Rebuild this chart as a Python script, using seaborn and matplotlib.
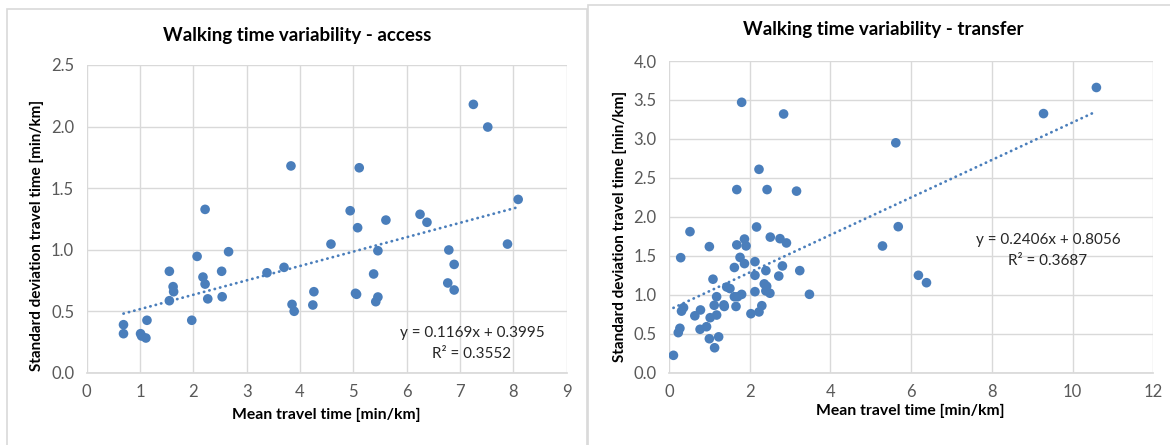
import numpy as np
import pandas as pd
import matplotlib
matplotlib.use("Agg")
import matplotlib.pyplot as plt
from matplotlib.patches import Rectangle
import seaborn as sns

# ---------------- data ----------------
access_mean = [0.69, 0.69, 1.13, 1.01, 1.03, 1.11, 1.55, 1.62, 1.63, 1.55, 1.97, 2.07,
               2.22, 2.18, 2.22, 2.27, 2.53, 2.54, 2.66, 3.38, 3.70, 3.83, 3.85, 3.89,
               4.26, 4.24, 4.58, 4.94, 5.11, 5.08, 5.61, 5.46, 5.38, 5.06, 5.04, 5.46,
               5.42, 6.25, 6.38, 6.79, 6.89, 6.77, 6.89, 7.25, 7.52, 7.89, 8.09]
access_sd = [0.39, 0.317, 0.426, 0.317, 0.298, 0.282, 0.824, 0.699, 0.658, 0.585, 0.426, 0.945,
             1.327, 0.777, 0.72, 0.60, 0.824, 0.617, 0.983, 0.812, 0.856, 1.68, 0.555, 0.499,
             0.658, 0.55, 1.045, 1.316, 1.665, 1.178, 1.24, 0.991, 0.802, 0.637, 0.645, 0.615,
             0.577, 1.287, 1.222, 0.997, 0.88, 0.729, 0.672, 2.18, 1.996, 1.045, 1.408]

transfer_mean = [0.11, 0.23, 0.27, 0.29, 0.31, 0.36, 0.52, 0.64, 0.78, 0.77, 0.93, 1.00,
                 1.00, 1.02, 1.09, 1.12, 1.13, 1.18, 1.18, 1.23, 1.36, 1.37, 1.43, 1.51,
                 1.62, 1.62, 1.66, 1.68, 1.68, 1.70, 1.76, 1.80, 1.80, 1.87, 1.87, 1.91,
                 2.03, 2.13, 2.13, 2.13, 2.17, 2.23, 2.23, 2.30, 2.36, 2.40, 2.42, 2.43,
                 2.40, 2.50, 2.51, 2.72, 2.75, 2.81, 2.84, 2.91, 3.16, 3.24, 3.48, 5.29,
                 5.62, 5.68, 6.18, 6.38, 9.28, 10.59]
transfer_sd = [0.223, 0.514, 0.57, 1.476, 0.79, 0.835, 1.81, 0.73, 0.805, 0.557, 0.59, 1.618,
               0.436, 0.706, 1.20, 0.865, 0.32, 0.975, 0.74, 0.46, 0.87, 0.85, 1.10, 1.08,
               1.35, 0.975, 0.85, 2.35, 1.64, 0.975, 1.48, 3.47, 1.005, 1.40, 1.715, 1.627,
               0.757, 1.425, 1.25, 1.04, 1.87, 2.61, 0.78, 0.86, 1.14, 1.31, 1.11, 2.35,
               1.05, 1.02, 1.74, 1.24, 1.72, 1.37, 3.32, 1.665, 2.33, 1.31, 1.006, 1.626,
               2.95, 1.874, 1.25, 1.155, 3.325, 3.66]

access_fit = (0.1169, 0.3995)     # slope, intercept
access_r2 = 0.3552
transfer_fit = (0.2406, 0.8056)
transfer_r2 = 0.3687

access_xticks = [0, 1, 2, 3, 4, 5, 6, 7, 8, 9]
access_yticks = [0.0, 0.5, 1.0, 1.5, 2.0, 2.5]
transfer_xticks = [0, 2, 4, 6, 8, 10, 12]
transfer_yticks = [0.0, 0.5, 1.0, 1.5, 2.0, 2.5, 3.0, 3.5, 4.0]

title_access = "Walking time variability - access"
title_transfer = "Walking time variability - transfer"
xlabel = "Mean travel time [min/km]"
ylabel = "Standard deviation travel time [min/km]"

# ---------------- style ----------------
sns.set_theme(style="white")
plt.rcParams['font.family'] = ['Lato', 'DejaVu Sans']

W, H = 1170, 445
fig = plt.figure(figsize=(W / 100, H / 100), dpi=100)
fig.patch.set_facecolor("white")

PT_COLOR = "#4A7EBB"
GRID = "#D9D9D9"
TICK = "#595959"

def px(x0, y0, x1, y1):
    # pixel box -> figure fraction [left, bottom, width, height]
    return [x0 / W, 1 - y1 / H, (x1 - x0) / W, (y1 - y0) / H]

# chart frame borders
fig.patches.append(Rectangle((7 / W, -0.1), (587 - 7) / W, 1.1 - 9.5 / H,
                             transform=fig.transFigure, fill=False,
                             edgecolor="#D9D9D9", linewidth=1.2))
fig.patches.append(Rectangle((588 / W, -0.1), (1175 - 588) / W, 1.1 - 5 / H,
                             transform=fig.transFigure, fill=False,
                             edgecolor="#D9D9D9", linewidth=1.2))

ax1 = fig.add_axes(px(86.7, 65, 566.7, 372.7))
ax2 = fig.add_axes(px(669, 61, 1153.3, 372.7))

def draw(ax, xs, ys, fit, xticks, yticks):
    df = pd.DataFrame({"x": xs, "y": ys})
    sns.scatterplot(data=df, x="x", y="y", ax=ax, color=PT_COLOR, s=48,
                    edgecolor="none", zorder=3)
    slope, icpt = fit
    xl = np.array([min(xs), max(xs)])
    tl = pd.DataFrame({"x": xl, "y": slope * xl + icpt})
    sns.lineplot(data=tl, x="x", y="y", ax=ax, color=PT_COLOR, linewidth=2.0,
                 linestyle=(0, (0.1, 1.9)), dash_capstyle="round", zorder=2)
    ax.set_xlim(xticks[0], xticks[-1])
    ax.set_ylim(yticks[0], yticks[-1])
    ax.set_xticks(xticks)
    ax.set_yticks(yticks)
    ax.set_xticklabels([str(t) for t in xticks])
    ax.set_yticklabels([f"{t:.1f}" for t in yticks])
    ax.grid(True, color=GRID, linewidth=1.0)
    ax.set_axisbelow(True)
    for s in ax.spines.values():
        s.set_visible(False)
    ax.spines["bottom"].set_visible(True)
    ax.spines["bottom"].set_color(GRID)
    ax.tick_params(axis="both", length=0, labelsize=12, colors=TICK)
    ax.tick_params(axis="x", pad=8)
    ax.tick_params(axis="y", pad=9)
    ax.set_xlabel("")
    ax.set_ylabel("")

draw(ax1, access_mean, access_sd, access_fit, access_xticks, access_yticks)
draw(ax2, transfer_mean, transfer_sd, transfer_fit, transfer_xticks, transfer_yticks)

# titles and labels
fig.text(297 / W, 1 - 35 / H, title_access, ha="center", va="center",
         fontsize=13.5, fontweight="bold", color="black")
fig.text(883 / W, 1 - 30 / H, title_transfer, ha="center", va="center",
         fontsize=13.5, fontweight="bold", color="black")
fig.text(326 / W, 1 - 415 / H, xlabel, ha="center", va="center",
         fontsize=11.3, fontweight="bold", color="black")
fig.text(910 / W, 1 - 411 / H, xlabel, ha="center", va="center",
         fontsize=11.3, fontweight="bold", color="black")
fig.text(37 / W, 1 - 235 / H, ylabel, ha="center", va="center", rotation=90,
         fontsize=11.0, fontweight="bold", color="black")
fig.text(620 / W, 1 - 226 / H, ylabel, ha="center", va="center", rotation=90,
         fontsize=11.0, fontweight="bold", color="black")

# trendline equations
fig.text(472 / W, 1 - 333 / H, f"y = {access_fit[0]:.4f}x + {access_fit[1]:.4f}",
         ha="center", va="center", fontsize=11, color="#262626")
fig.text(472 / W, 1 - 354 / H, f"R² = {access_r2:.4f}",
         ha="center", va="center", fontsize=11, color="#262626")
fig.text(1048 / W, 1 - 240 / H, f"y = {transfer_fit[0]:.4f}x + {transfer_fit[1]:.4f}",
         ha="center", va="center", fontsize=11, color="#262626")
fig.text(1048 / W, 1 - 261 / H, f"R² = {transfer_r2:.4f}",
         ha="center", va="center", fontsize=11, color="#262626")

fig.savefig("out.png", dpi=100, facecolor="white")
